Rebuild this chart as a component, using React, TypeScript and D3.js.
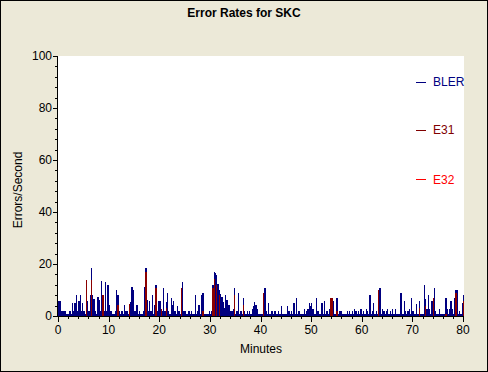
import React from "react";
import * as d3 from "d3";

// BLER sampled every 0.25 minute (slot i -> minute i*0.25)
const blerValues: number[] = [
  5.7, 5.7, 1.8, 1.8, 1.8, 1.8, 0.9, 0.9, 0.9, 1.8, 0.9, 4.9, 1.8, 4.9, 8.0, 1.8, 5.7, 8.0, 1.8, 4.9,
  1.8, 0.9, 13.5, 5.7, 1.8, 8.0, 18.3, 8.0, 6.7, 1.8, 0.9, 7.3, 6.0, 1.8, 13.5, 5.4, 1.8, 12.9, 1.8, 12.1,
  4.1, 1.8, 1.8, 0.9, 0.9, 1.8, 9.9, 8.0, 1.8, 0.9, 1.8, 0.9, 4.1, 1.8, 1.8, 0.9, 4.7, 5.4, 11.1, 9.9,
  1.8, 1.8, 4.1, 0.9, 1.8, 0.9, 0.9, 1.8, 11.1, 18.3, 6.0, 1.8, 5.7, 1.8, 8.0, 0.9, 4.4, 11.8, 1.8, 5.7,
  5.7, 2.8, 1.8, 10.8, 1.8, 5.4, 9.0, 1.8, 0.9, 7.0, 4.1, 5.8, 1.8, 0.9, 3.9, 1.8, 0.9, 10.6, 13.0, 1.8,
  1.8, 0.9, 0.9, 1.8, 0.9, 1.8, 0.9, 0.9, 8.2, 0.9, 1.8, 4.1, 0.9, 8.2, 9.0, 0.9, 0.9, 0.9, 0.9, 1.8,
  0.9, 1.8, 12.1, 17.0, 16.5, 15.7, 12.5, 10.0, 8.6, 7.3, 5.4, 3.0, 8.0, 6.0, 4.1, 4.1, 1.8, 1.8, 2.8, 10.8,
  0.9, 1.8, 9.0, 0.9, 1.8, 0.9, 7.0, 1.8, 0.9, 1.8, 0.9, 1.8, 0.9, 2.8, 3.9, 5.2, 4.1, 2.8, 0.9, 0.9,
  0.9, 0.9, 8.9, 10.8, 1.8, 0.9, 5.0, 0.9, 1.8, 1.8, 0.9, 1.8, 0.9, 0.9, 1.8, 0.9, 3.9, 0.9, 0.9, 0.9,
  0.9, 3.9, 1.8, 0.9, 1.8, 0.9, 5.0, 0.9, 7.0, 0.9, 1.8, 0.9, 0.9, 0.9, 2.7, 0.9, 1.8, 2.7, 5.0, 4.0,
  5.0, 2.7, 0.9, 0.9, 7.0, 1.8, 0.9, 0.9, 5.0, 0.9, 5.7, 0.9, 1.8, 0.9, 2.7, 7.0, 7.0, 5.7, 0.9, 0.9,
  7.0, 0.9, 1.8, 1.8, 0.9, 0.9, 0.9, 0.9, 1.8, 0.9, 1.8, 0.9, 1.8, 0.9, 2.7, 1.8, 0.9, 1.8, 0.9, 2.7,
  0.9, 1.8, 0.9, 2.7, 1.8, 0.9, 8.2, 0.9, 1.8, 5.0, 0.9, 1.8, 0.9, 9.9, 10.8, 0.9, 2.7, 1.8, 0.9, 1.8,
  2.7, 0.9, 1.8, 0.9, 2.7, 0.9, 2.7, 0.9, 0.9, 0.9, 9.0, 9.0, 0.9, 5.7, 1.8, 0.9, 1.8, 2.7, 0.9, 7.0,
  1.8, 0.9, 0.9, 4.5, 0.9, 5.7, 0.9, 0.9, 0.9, 11.8, 6.5, 2.8, 8.2, 2.8, 0.9, 5.7, 7.0, 10.8, 1.8, 0.9,
  0.9, 2.7, 0.9, 0.9, 0.9, 0.9, 7.0, 2.7, 0.9, 2.7, 5.7, 2.7, 0.9, 7.0, 9.9, 9.9, 0.9, 1.8, 0.9, 5.0,
  8.2,
];

// E31 spikes: slot index (0.25 min) and value
const e31Slots: number[] = [22, 26, 35, 47, 56, 69, 77, 81, 85, 97, 114, 122, 123, 125, 127, 139, 146, 162, 215, 216, 220, 253, 285, 290, 296, 306, 314, 320];
const e31Values: number[] = [13.9, 13.9, 8.0, 4.1, 4.7, 17.0, 10.9, 2.8, 3.0, 10.6, 1.8, 10.8, 14.1, 12.0, 8.0, 8.0, 4.1, 8.9, 7.0, 7.0, 1.8, 9.9, 3.0, 4.0, 7.0, 0.9, 9.0, 5.7];

const slotMinutes = 0.25;
const xTicks: number[] = [0, 10, 20, 30, 40, 50, 60, 70, 80];
const yTicks: number[] = [0, 20, 40, 60, 80, 100];
const legendNames: string[] = ["BLER", "E31", "E32"];
const legendColors: string[] = ["#000080", "#800000", "#ff0000"];
const legendYValues: number[] = [90, 71.5, 52.5];

const W = 488;
const H = 372;
const left = 58;
const right = 463;
const top = 56;
const bottom = 316;
const FONT = "'Liberation Sans', Arial, sans-serif";

export default function App() {
  const x = d3.scaleLinear().domain([0, 80]).range([left, right]);
  const y = d3.scaleLinear().domain([0, 100]).range([bottom, top]);
  const bw = x(slotMinutes) - x(0);
  const minorX = d3.range(0, 81, 2);
  const minorY = d3.range(0, 101, 4);

  return (
    <svg width={W} height={H} style={{ position: "absolute", left: 0, top: 0, display: "block" }}>
      <rect x={0.5} y={0.5} width={W - 1} height={H - 1} fill="#ECE9D8" stroke="#000" />
      <text x={244} y={17} textAnchor="middle" fontFamily={FONT} fontWeight="bold" fontSize={12} fill="#000">
        Error Rates for SKC
      </text>
      <rect x={left} y={top} width={464 - left} height={bottom - top} fill="#fff" />
      <g shapeRendering="crispEdges">
        {blerValues.map((v, i) => (
          <rect key={"b" + i} x={x(i * slotMinutes)} y={y(v)} width={bw} height={y(0) - y(v)} fill="#000080" />
        ))}
        {e31Slots.map((s, i) => (
          <rect key={"e" + i} x={x(s * slotMinutes)} y={y(e31Values[i])} width={bw} height={y(0) - y(e31Values[i])} fill="#8B0000" />
        ))}
      </g>
      {/* legend */}
      {legendNames.map((n, i) => (
        <g key={n}>
          <line x1={416} x2={426} y1={y(legendYValues[i])} y2={y(legendYValues[i])} stroke={legendColors[i]} strokeWidth={1} shapeRendering="crispEdges" />
          <text x={433} y={y(legendYValues[i]) + 4} fontFamily={FONT} fontSize={12} fill={legendColors[i]}>
            {n}
          </text>
        </g>
      ))}
      {/* axes */}
      <g shapeRendering="crispEdges" stroke="#000">
        <line x1={left - 0.5} x2={left - 0.5} y1={top} y2={bottom + 1} />
        <line x1={left} x2={right + 1} y1={bottom + 0.5} y2={bottom + 0.5} />
        {minorY.map((t) => (
          <line key={"my" + t} x1={left - (t % 20 === 0 ? 5 : 3)} x2={left} y1={Math.round(y(t)) + 0.5} y2={Math.round(y(t)) + 0.5} />
        ))}
        {minorX.map((t) => (
          <line key={"mx" + t} x1={Math.round(x(t)) + 0.5} x2={Math.round(x(t)) + 0.5} y1={bottom} y2={bottom + (t % 10 === 0 ? 6 : 3)} />
        ))}
      </g>
      {yTicks.map((t) => (
        <text key={"yt" + t} x={left - 6} y={y(t) + 4} textAnchor="end" fontFamily={FONT} fontSize={12} fill="#000">
          {t}
        </text>
      ))}
      {xTicks.map((t) => (
        <text key={"xt" + t} x={x(t)} y={bottom + 18} textAnchor="middle" fontFamily={FONT} fontSize={12} fill="#000">
          {t}
        </text>
      ))}
      <text x={261} y={353} textAnchor="middle" fontFamily={FONT} fontSize={12} fill="#000">
        Minutes
      </text>
      <text transform={`translate(22,190) rotate(-90)`} textAnchor="middle" fontFamily={FONT} fontSize={12} fill="#000">
        Errors/Second
      </text>
    </svg>
  );
}
